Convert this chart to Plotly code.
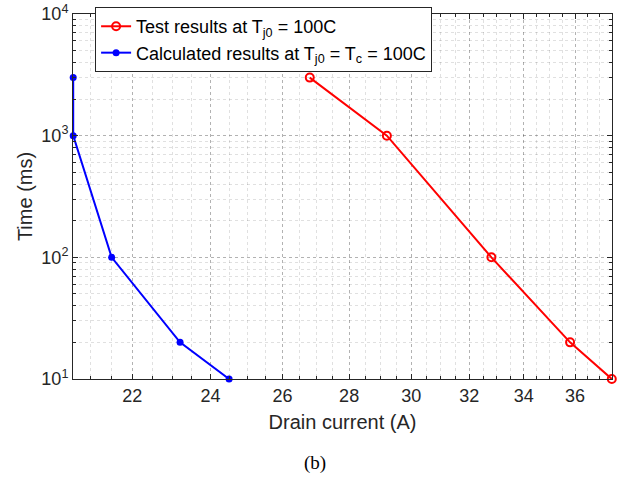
import numpy as np
import plotly.graph_objects as go

# Drain current (A) and time (ms) for the two data sets
test_current = [26.8, 29.2, 32.8, 35.8, 37.5]
test_time = [3000, 1000, 100, 20, 10]

calc_current = [20.6, 20.6, 21.5, 23.2, 24.5]
calc_time = [3000, 1000, 100, 20, 10]

x_major = [22, 24, 26, 28, 30, 32, 34, 36]
y_major = [10, 100, 1000, 10000]
y_major_text = ["10<sup>1</sup>", "10<sup>2</sup>", "10<sup>3</sup>", "10<sup>4</sup>"]

x_minor = [v for v in np.arange(21.0, 37.51, 0.5) if v not in x_major]
y_minor = [m * d for d in (10, 100, 1000) for m in range(2, 10)]

FONT = "Liberation Sans, Arial, sans-serif"
AXIS_COLOR = "#262626"

fig = go.Figure()

fig.add_trace(go.Scatter(
    x=test_current, y=test_time, mode="lines+markers",
    name="Test results at T<sub>j0</sub> = 100C",
    legendgroup="test",
    line=dict(color="#ff0000", width=2),
    marker=dict(symbol="circle-open", size=8, color="#ff0000", line=dict(width=2)),
    cliponaxis=False,
))
fig.add_trace(go.Scatter(
    x=calc_current, y=calc_time, mode="lines+markers",
    name="Calculated results at T<sub>j0</sub> = T<sub>c</sub> = 100C",
    legendgroup="calc",
    line=dict(color="#0000ff", width=2),
    marker=dict(symbol="circle", size=7, color="#0000ff"),
    cliponaxis=False,
))

# tight limits around the data (tiny pad so edge points stay inside the range)
pad = 1e-4
x_lo = np.log10(min(calc_current + test_current)) - pad
x_hi = np.log10(max(calc_current + test_current)) + pad

fig.update_layout(
    width=630, height=479,
    margin=dict(l=73, r=18, t=14, b=100, autoexpand=False),
    paper_bgcolor="white", plot_bgcolor="white",
    font=dict(family=FONT, color=AXIS_COLOR),
    showlegend=True,
    legend=dict(
        x=0.041, y=1.019, xanchor="left", yanchor="top",
        bgcolor="white", bordercolor=AXIS_COLOR, borderwidth=1,
        font=dict(family=FONT, size=18, color="black"),
        tracegroupgap=4, itemwidth=30,
        traceorder="normal",
    ),
    xaxis=dict(
        type="log", range=[x_lo, x_hi],
        tickvals=x_major, ticktext=[str(v) for v in x_major],
        tickfont=dict(size=18, color=AXIS_COLOR),
        ticks="inside", ticklen=5, tickcolor=AXIS_COLOR,
        showline=True, linecolor=AXIS_COLOR, linewidth=1, mirror="ticks",
        showgrid=True, gridcolor="rgba(0,0,0,0.3)", griddash="dot", gridwidth=1,
        minor=dict(tickvals=x_minor, ticks="inside", ticklen=3, tickcolor=AXIS_COLOR,
                   showgrid=True, gridcolor="rgba(0,0,0,0.12)", griddash="dot"),
        zeroline=False,
        title=dict(text="Drain current (A)", font=dict(size=20, color=AXIS_COLOR), standoff=10),
    ),
    yaxis=dict(
        type="log", range=[1, 4],
        tickvals=y_major, ticktext=y_major_text,
        tickfont=dict(size=18, color=AXIS_COLOR),
        ticks="inside", ticklen=5, tickcolor=AXIS_COLOR,
        showline=True, linecolor=AXIS_COLOR, linewidth=1, mirror="ticks",
        showgrid=True, gridcolor="rgba(0,0,0,0.3)", griddash="dot", gridwidth=1,
        minor=dict(tickvals=y_minor, ticks="inside", ticklen=3, tickcolor=AXIS_COLOR,
                   showgrid=True, gridcolor="rgba(0,0,0,0.12)", griddash="dot"),
        zeroline=False,
        title=dict(text="Time (ms)", font=dict(size=20, color=AXIS_COLOR), standoff=3),
    ),
    annotations=[dict(
        text="(b)", xref="paper", yref="paper", x=(315 - 73) / 539, y=(379 - 463) / 365,
        xanchor="center", yanchor="middle", showarrow=False,
        font=dict(family="Liberation Serif, Times New Roman, serif", size=19, color="black"),
    )],
)

fig.write_html("out.html")
